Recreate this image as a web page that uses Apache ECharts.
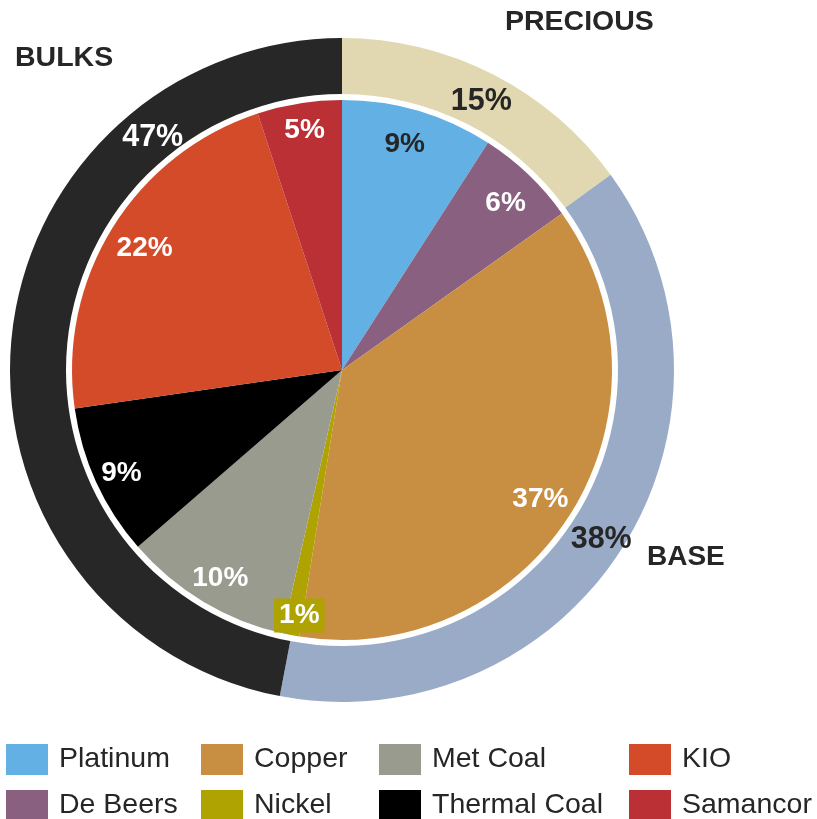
<!DOCTYPE html>
<html>
<head>
<meta charset="utf-8">
<title>Portfolio mix</title>
<script src="https://cdn.jsdelivr.net/npm/echarts@6/dist/echarts.min.js"></script>
<style>
  html, body { margin: 0; padding: 0; background: #ffffff; }
  #chart { width: 817px; height: 819px; }
</style>
</head>
<body>
<div id="chart"></div>
<script>
// Commodity split (inner pie), percent of total
const products = ['Platinum', 'De Beers', 'Copper', 'Nickel', 'Met Coal', 'Thermal Coal', 'KIO', 'Samancor'];
const productShare = [9, 6, 37, 1, 10, 9, 22, 5];

// Commodity groups (outer ring), percent of total
const groups = ['PRECIOUS', 'BASE', 'BULKS'];
const groupShare = [15, 38, 47];

// Legend columns
const legendColumns = [
  ['Platinum', 'De Beers'],
  ['Copper', 'Nickel'],
  ['Met Coal', 'Thermal Coal'],
  ['KIO', 'Samancor']
];

// Styling
const productColors = ['#62b0e4', '#89607f', '#c88e42', '#aea300', '#9a9b8f', '#000000', '#d34b28', '#ba3035'];
const groupColors = ['#e1d8b1', '#9aabc8', '#272727'];
const DARK = '#262626';
const FONT = '"Liberation Sans", Arial, Helvetica, sans-serif';
const darkProductLabels = ['Platinum'];
const darkGroupLabels = ['PRECIOUS', 'BASE'];

// small hand nudges for individual slice labels [dx, dy]
const labelNudge = {
  'Platinum': [-4, -3],
  'Copper': [-3, -1],
  'Thermal Coal': [-5, 0],
  'KIO': [4, -2],
  'Samancor': [0, -11]
};

const CX = 342, CY = 370;
const PIE_R = 270;
const RING_R0 = 276, RING_R = 332;
const BULKS_LABEL_ANGLE = 321; // degrees clockwise from 12 o'clock

const chart = echarts.init(document.getElementById('chart'), null, { renderer: 'canvas' });

const productData = products.map((n, i) => ({ name: n, value: productShare[i] }));

const series = [
  {
    // filled commodity slices
    type: 'pie',
    center: [CX, CY],
    radius: [0, PIE_R],
    startAngle: 90,
    clockwise: true,
    avoidLabelOverlap: false,
    label: { show: false },
    labelLine: { show: false },
    emphasis: { disabled: true },
    itemStyle: { borderWidth: 0 },
    color: productColors,
    data: productData
  },
  {
    // value labels near the rim of the pie
    type: 'pie',
    center: [CX, CY],
    radius: [198, PIE_R],
    startAngle: 90,
    clockwise: true,
    silent: true,
    avoidLabelOverlap: false,
    emphasis: { disabled: true },
    labelLine: { show: false },
    itemStyle: { color: 'rgba(0,0,0,0)', borderWidth: 0 },
    data: products.map((n, i) => ({
      name: n,
      value: productShare[i],
      label: {
        show: n !== 'Nickel',
        color: darkProductLabels.includes(n) ? DARK : '#ffffff'
      }
    })),
    label: {
      position: 'inside',
      formatter: p => p.value + '%',
      fontFamily: FONT,
      fontWeight: 'bold',
      fontSize: 28
    },
    labelLayout: function (p) {
      const n = labelNudge[products[p.dataIndex]] || [0, 0];
      return { dx: n[0], dy: 5 + n[1] };
    }
  },
  {
    // boxed label for the thin Nickel slice
    type: 'pie',
    center: [CX, CY],
    radius: [228, PIE_R],
    startAngle: 90,
    clockwise: true,
    silent: true,
    avoidLabelOverlap: false,
    emphasis: { disabled: true },
    labelLine: { show: false },
    itemStyle: { color: 'rgba(0,0,0,0)', borderWidth: 0 },
    data: products.map((n, i) => ({
      name: n,
      value: productShare[i],
      label: { show: n === 'Nickel' }
    })),
    label: {
      position: 'inside',
      formatter: p => p.value + '%',
      fontFamily: FONT,
      fontWeight: 'bold',
      fontSize: 28,
      color: '#ffffff',
      backgroundColor: productColors[products.indexOf('Nickel')],
      padding: [3, 5, 3, 5]
    },
    labelLayout: { dx: 5, dy: -2 }
  },
  {
    // group ring
    type: 'pie',
    center: [CX, CY],
    radius: [RING_R0, RING_R],
    startAngle: 90,
    clockwise: true,
    avoidLabelOverlap: false,
    emphasis: { disabled: true },
    labelLine: { show: false },
    itemStyle: { borderWidth: 0 },
    color: groupColors,
    data: groups.map((g, i) => ({
      name: g,
      value: groupShare[i],
      label: { color: darkGroupLabels.includes(g) ? DARK : '#ffffff' }
    })),
    label: {
      show: true,
      position: 'inside',
      formatter: p => p.value + '%',
      fontFamily: FONT,
      fontWeight: 'bold',
      fontSize: 30.5
    },
    labelLayout: function (p) {
      if (groups[p.dataIndex] !== 'BULKS') return { dy: 5 };
      const a = BULKS_LABEL_ANGLE * Math.PI / 180;
      const r = (RING_R0 + RING_R) / 2;
      return {
        x: CX + r * Math.sin(a) + 2,
        y: CY - r * Math.cos(a) + 4,
        align: 'center',
        verticalAlign: 'middle'
      };
    }
  }
];

const legendX = [6, 201, 379, 629];

const option = {
  backgroundColor: '#ffffff',
  animation: false,
  legend: legendColumns.map((names, i) => ({
    data: names.map(n => ({ name: n, icon: 'rect' })),
    orient: 'vertical',
    left: legendX[i],
    top: 744,
    width: 200,
    height: 100,
    padding: 0,
    itemWidth: 42,
    itemHeight: 31,
    itemGap: 15,
    selectedMode: false,
    textStyle: {
      fontFamily: FONT,
      fontSize: 28.5,
      color: DARK,
      padding: [9, 0, 0, 6]
    }
  })),
  graphic: [
    { type: 'text', left: 505, top: 8, style: { text: 'PRECIOUS', font: 'bold 28.5px ' + FONT, fill: DARK } },
    { type: 'text', left: 15, top: 44, style: { text: 'BULKS', font: 'bold 28.5px ' + FONT, fill: DARK } },
    { type: 'text', left: 647, top: 543, style: { text: 'BASE', font: 'bold 28px ' + FONT, fill: DARK } }
  ],
  series: series
};

chart.setOption(option);
</script>
</body>
</html>
